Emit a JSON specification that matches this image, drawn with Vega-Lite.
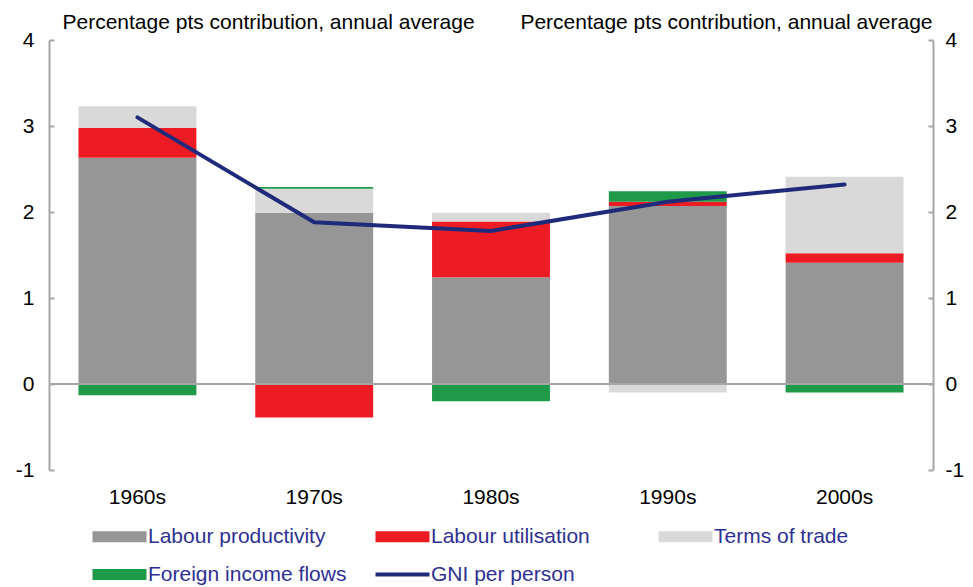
{
  "$schema": "https://vega.github.io/schema/vega-lite/v6.json",
  "width": 884,
  "height": 430,
  "autosize": {"type": "none"},
  "padding": {"left": 49, "top": 40, "right": 40, "bottom": 117},
  "background": "white",
  "config": {
    "view": {"stroke": null},
    "font": "Liberation Sans",
    "text": {"font": "Liberation Sans"}
  },
  "data": {
    "values": [
      {"decade": "1960s", "component": "Labour productivity", "value": 2.63},
      {"decade": "1960s", "component": "Labour utilisation", "value": 0.35},
      {"decade": "1960s", "component": "Terms of trade", "value": 0.25},
      {"decade": "1960s", "component": "Foreign income flows", "value": -0.13},
      {"decade": "1960s", "component": "GNI per person", "value": 3.10},
      {"decade": "1970s", "component": "Labour productivity", "value": 1.99},
      {"decade": "1970s", "component": "Labour utilisation", "value": -0.39},
      {"decade": "1970s", "component": "Terms of trade", "value": 0.28},
      {"decade": "1970s", "component": "Foreign income flows", "value": 0.02},
      {"decade": "1970s", "component": "GNI per person", "value": 1.88},
      {"decade": "1980s", "component": "Labour productivity", "value": 1.24},
      {"decade": "1980s", "component": "Labour utilisation", "value": 0.65},
      {"decade": "1980s", "component": "Terms of trade", "value": 0.10},
      {"decade": "1980s", "component": "Foreign income flows", "value": -0.20},
      {"decade": "1980s", "component": "GNI per person", "value": 1.78},
      {"decade": "1990s", "component": "Labour productivity", "value": 2.07},
      {"decade": "1990s", "component": "Labour utilisation", "value": 0.05},
      {"decade": "1990s", "component": "Terms of trade", "value": -0.10},
      {"decade": "1990s", "component": "Foreign income flows", "value": 0.12},
      {"decade": "1990s", "component": "GNI per person", "value": 2.12},
      {"decade": "2000s", "component": "Labour productivity", "value": 1.41},
      {"decade": "2000s", "component": "Labour utilisation", "value": 0.11},
      {"decade": "2000s", "component": "Terms of trade", "value": 0.89},
      {"decade": "2000s", "component": "Foreign income flows", "value": -0.10},
      {"decade": "2000s", "component": "GNI per person", "value": 2.32}
    ]
  },
  "layer": [
    {
      "layer": [
        {
          "transform": [
            {"filter": "datum.component !== 'GNI per person'"},
            {"calculate": "indexof(['Labour productivity','Labour utilisation','Terms of trade','Foreign income flows'], datum.component)", "as": "stackOrder"}
          ],
          "mark": {"type": "bar"},
          "encoding": {
            "x": {
              "field": "decade",
              "type": "nominal",
              "scale": {"paddingInner": 0.333, "paddingOuter": 0.1667},
              "axis": {
                "title": null,
                "domain": false,
                "ticks": false,
                "labelAngle": 0,
                "labelPadding": 16,
                "labelFontSize": 21,
                "labelColor": "black",
                "labelFont": "Liberation Sans"
              }
            },
            "y": {
              "field": "value",
              "type": "quantitative",
              "stack": "zero",
              "scale": {"domain": [-1, 4], "nice": false},
              "axis": {
                "orient": "left",
                "values": [-1, 0, 1, 2, 3, 4],
                "labelExpr": "'' + datum.value",
                "grid": false,
                "domainColor": "#A6A6A6",
                "domainWidth": 2,
                "tickColor": "#A6A6A6",
                "tickWidth": 2,
                "tickSize": -5,
                "labelPadding": 20,
                "labelFontSize": 21,
                "labelColor": "black",
                "labelFont": "Liberation Sans",
                "title": "Percentage pts contribution, annual average",
                "titleAngle": 0,
                "titleAlign": "left",
                "titleBaseline": "alphabetic",
                "titleX": 13,
                "titleY": -12,
                "titleFontSize": 21,
                "titleFontWeight": "normal",
                "titleColor": "black",
                "titleFont": "Liberation Sans"
              }
            },
            "color": {
              "field": "component",
              "type": "nominal",
              "scale": {
                "domain": ["Labour productivity", "Labour utilisation", "Terms of trade", "Foreign income flows", "GNI per person"],
                "range": ["#969696", "#ED1C24", "#D9D9D9", "#1E9A48", "#1F2A7A"]
              },
              "legend": {
                "title": null,
                "orient": "none",
                "legendX": 60,
                "legendY": 486,
                "direction": "horizontal",
                "columns": 3,
                "gridAlign": "all",
                "columnPadding": 28,
                "rowPadding": 16,
                "padding": 0,
                "symbolSize": 400,
                "symbolType": "M-2.7,-0.54H2.7V0.54H-2.7Z",
                "symbolStrokeWidth": 0,
                "labelOffset": 18,
                "labelFontSize": 21,
                "labelColor": "#2E3192",
                "labelFont": "Liberation Sans",
                "labelLimit": 400,
                "encode": {
                  "symbols": {
                    "update": {
                      "shape": {"signal": "datum.value === 'GNI per person' ? 'M-2.7,-0.19H2.7V0.19H-2.7Z' : 'M-2.7,-0.54H2.7V0.54H-2.7Z'"},
                      "fill": {"scale": "color", "field": "value"},
                      "stroke": {"value": "transparent"},
                      "strokeWidth": {"value": 0},
                      "opacity": {"value": 1}
                    }
                  }
                }
              }
            },
            "order": {"field": "stackOrder", "type": "quantitative"}
          }
        },
        {
          "data": {"values": [{}]},
          "mark": {"type": "rule", "color": "#A6A6A6", "strokeWidth": 2},
          "encoding": {"y": {"datum": 0}}
        }
      ]
    },
    {
      "transform": [{"filter": "datum.component === 'GNI per person'"}],
      "mark": {"type": "line", "strokeWidth": 4, "strokeCap": "round"},
      "encoding": {
        "x": {"field": "decade", "type": "nominal"},
        "y": {
          "field": "value",
          "type": "quantitative",
          "scale": {"domain": [-1, 4], "nice": false},
          "axis": {
            "orient": "right",
            "values": [-1, 0, 1, 2, 3, 4],
            "labelExpr": "'' + datum.value",
            "grid": false,
            "domainColor": "#A6A6A6",
            "domainWidth": 2,
            "tickColor": "#A6A6A6",
            "tickWidth": 2,
            "tickSize": -5,
            "labelPadding": 17,
            "labelFontSize": 21,
            "labelColor": "black",
            "labelFont": "Liberation Sans",
            "title": "Percentage pts contribution, annual average",
            "titleAngle": 0,
            "titleAlign": "right",
            "titleBaseline": "alphabetic",
            "titleX": -1,
            "titleY": -12,
            "titleFontSize": 21,
            "titleFontWeight": "normal",
            "titleColor": "black",
            "titleFont": "Liberation Sans"
          }
        },
        "color": {"field": "component", "type": "nominal"}
      }
    }
  ],
  "resolve": {"scale": {"y": "independent"}}
}
